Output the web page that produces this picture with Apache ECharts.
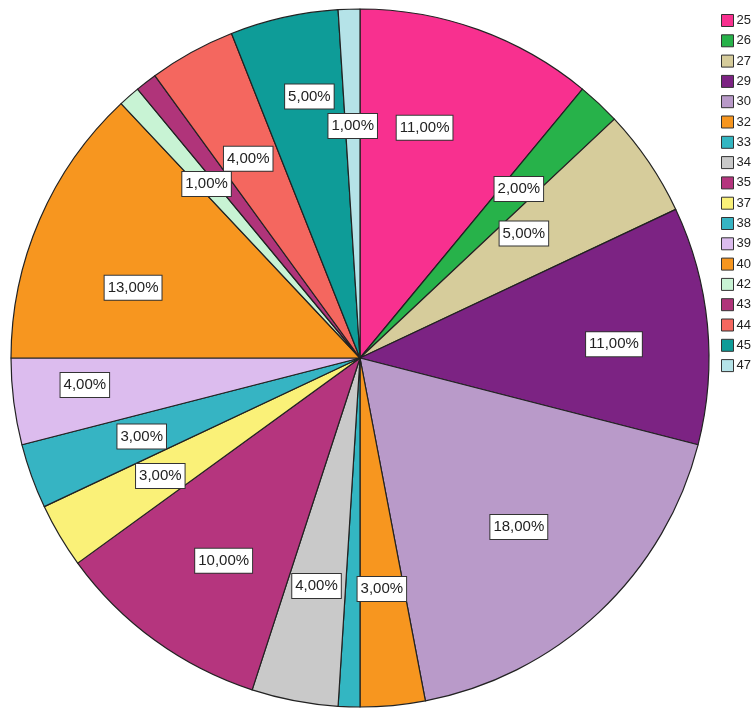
<!DOCTYPE html>
<html><head><meta charset="utf-8">
<script src="https://cdn.jsdelivr.net/npm/echarts@6/dist/echarts.min.js"></script>
<style>html,body{margin:0;padding:0;background:#fff}#c{width:755px;height:711px}</style>
</head><body><div id="c"></div>
<script>
const categories = ['25','26','27','29','30','32','33','34','35','37','38','39','40','42','43','44','45','47'];
const percents = [11,2,5,11,18,3,1,4,10,3,3,4,13,1,1,4,5,1];
const sliceColors = ['#f8308f','#27b24a','#d6cc9b','#7c2383','#b99ac9','#f7961f','#33b6c2','#c9c9c9','#b5357e','#faf178','#36b4c3','#dcbcee','#f7961f','#c8f3d4','#b0347a','#f4675f','#0e9c98','#b5e3e8'];
const hiddenLabels = ['33','43'];
// label nudges (px) where the reference moved a label away from its default spot
const labelNudge = {'25':[-14,-12],'27':[-28,6],'29':[23,8],'35':[0,15],'39':[-45,-2],'40':[-14,22],'44':[0,4],'45':[0,-35]};

const fmt = v => v.toFixed(2).replace('.', ',') + '%';
const center = [360, 358];

const pieData = categories.map((c,i)=>({name:c, value:percents[i], itemStyle:{color:sliceColors[i]}}));
const labelData = categories.map((c,i)=>({
  name:c, value:percents[i],
  itemStyle:{color:'rgba(0,0,0,0)', borderWidth:0},
  label:{show: hiddenLabels.indexOf(c) < 0, offset: labelNudge[c] || [0,0]}
}));

const chart = echarts.init(document.getElementById('c'), null, {renderer:'canvas'});
chart.setOption({
  backgroundColor:'#fff',
  animation:false,
  legend:{
    orient:'vertical', left:716, top:9,
    itemWidth:12, itemHeight:12, itemGap:7.3,
    icon:'rect',
    data:categories,
    itemStyle:{borderColor:'#333', borderWidth:1},
    textStyle:{fontFamily:'Liberation Sans, Arial, sans-serif', fontSize:13, color:'#222', padding:[0,0,0,-2]},
    selectedMode:false
  },
  series:[
    {
      type:'pie', center:center, radius:[0,349], startAngle:90, clockwise:true,
      avoidLabelOverlap:false,
      label:{show:false}, labelLine:{show:false},
      itemStyle:{borderColor:'#222', borderWidth:1.2},
      emphasis:{disabled:true},
      silent:true,
      data:pieData
    },
    {
      type:'pie', center:center, radius:[0,458], startAngle:90, clockwise:true,
      avoidLabelOverlap:false, silent:true, legendHoverLink:false,
      emphasis:{disabled:true},
      labelLine:{show:false},
      labelLayout:{hideOverlap:false, moveOverlap:null},
      label:{
        show:true, position:'inside',
        formatter: p => fmt(p.value),
        fontFamily:'Liberation Sans, Arial, sans-serif', fontSize:15, color:'#222',
        backgroundColor:'#fff', borderColor:'#333', borderWidth:1,
        padding:[4,3,3,3], lineHeight:17
      },
      data:labelData
    }
  ]
});
</script></body></html>
